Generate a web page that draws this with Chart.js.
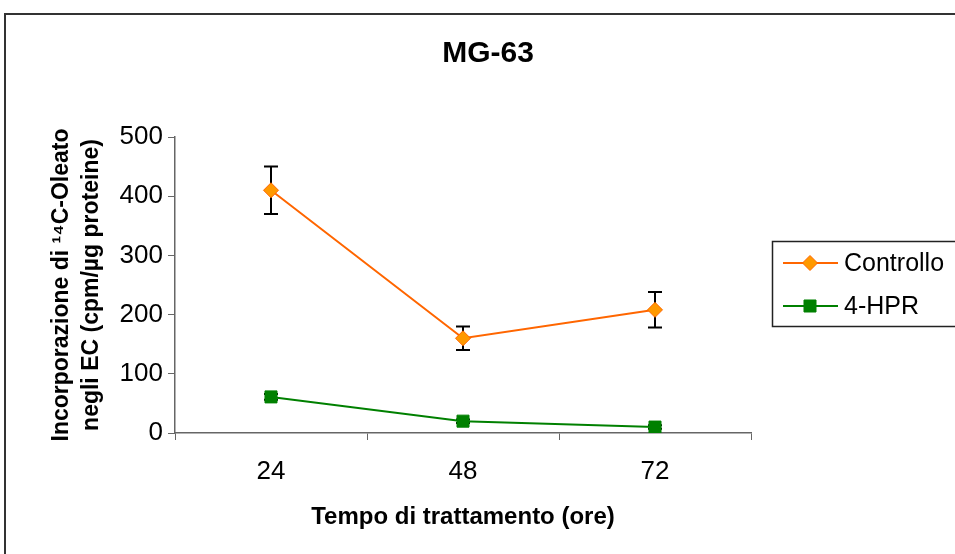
<!DOCTYPE html>
<html lang="it">
<head>
<meta charset="UTF-8">
<title>MG-63</title>
<style>
  html, body { margin: 0; padding: 0; background: #fff; }
</style>
</head>
<body>
<canvas id="myCanvas" width="955" height="554"></canvas>
<script src="https://cdn.jsdelivr.net/npm/chart.js@4.4.1/dist/chart.umd.min.js"></script>
<script>
// dati
const ore = ['24', '48', '72'];
const controllo = [410, 160, 208];
const controlloErr = [40, 20, 30];
const hpr = [61, 20, 10];
const hprErr = [5, 3, 3];
const yTicks = [0, 100, 200, 300, 400, 500];

const FONT = "'Liberation Sans', Arial, sans-serif";

// barre di errore, sotto i marker
const errorBars = {
    id: 'errorBars',
    beforeDatasetsDraw(chart) {
        const ctx = chart.ctx;
        const y = chart.scales.y;
        ctx.save();
        ctx.strokeStyle = '#000';
        ctx.lineWidth = 2;
        chart.data.datasets.forEach((ds, i) => {
            const meta = chart.getDatasetMeta(i);
            meta.data.forEach((pt, j) => {
                const v = ds.data[j], e = ds.err[j];
                const top = y.getPixelForValue(v + e);
                const bot = y.getPixelForValue(v - e);
                ctx.beginPath();
                ctx.moveTo(pt.x, top); ctx.lineTo(pt.x, bot);
                ctx.moveTo(pt.x - 7, top); ctx.lineTo(pt.x + 7, top);
                ctx.moveTo(pt.x - 7, bot); ctx.lineTo(pt.x + 7, bot);
                ctx.stroke();
            });
        });
        ctx.restore();
    }
};

// titolo, legenda e cornice come in Excel
const decor = {
    id: 'decor',
    afterDraw(chart) {
        const ctx = chart.ctx;
        ctx.save();
        ctx.strokeStyle = '#333';
        ctx.lineWidth = 2;
        ctx.strokeRect(5, 14, 1000, 1000);

        ctx.fillStyle = '#000';
        ctx.font = 'bold 30px ' + FONT;
        ctx.textAlign = 'center';
        ctx.textBaseline = 'middle';
        ctx.fillText('MG-63', 488, 54);

        // legenda
        ctx.lineWidth = 1.5;
        ctx.strokeStyle = '#222';
        ctx.strokeRect(772.5, 241.5, 200, 85);
        ctx.font = '25px ' + FONT;
        ctx.textAlign = 'left';
        const rows = [263, 306];
        chart.data.datasets.forEach((ds, i) => {
            const yy = rows[i];
            ctx.strokeStyle = ds.borderColor;
            ctx.lineWidth = 2;
            ctx.beginPath();
            ctx.moveTo(783, yy); ctx.lineTo(838, yy);
            ctx.stroke();
            ctx.fillStyle = ds.pointBackgroundColor;
            ctx.strokeStyle = ds.pointBorderColor;
            ctx.lineWidth = ds.pointBorderWidth;
            Chart.helpers.drawPoint(ctx, {pointStyle: ds.pointStyle, radius: ds.pointRadius, rotation: 0, borderWidth: ds.pointBorderWidth}, 810, yy);
            ctx.fillStyle = '#000';
            ctx.fillText(ds.label, 844, yy + 1);
        });
        ctx.restore();
    }
};

new Chart(document.getElementById('myCanvas'), {
    type: 'line',
    data: {
        labels: ore,
        datasets: [{
            label: 'Controllo',
            data: controllo,
            err: controlloErr,
            borderColor: '#FF6600',
            borderWidth: 2,
            pointStyle: 'rectRot',
            pointRadius: 7.5,
            pointBackgroundColor: '#FF9900',
            pointBorderColor: '#FF6600',
            pointBorderWidth: 1,
            tension: 0
        }, {
            label: '4-HPR',
            data: hpr,
            err: hprErr,
            borderColor: '#008000',
            borderWidth: 2,
            pointStyle: 'rect',
            pointRadius: 8.5,
            pointBackgroundColor: '#008000',
            pointBorderColor: '#008000',
            pointBorderWidth: 1,
            tension: 0
        }]
    },
    options: {
        responsive: false,
        animation: false,
        layout: { padding: { left: 0, top: 137, right: 204, bottom: 0 } },
        plugins: {
            legend: { display: false },
            title: { display: false },
            tooltip: { enabled: false }
        },
        scales: {
            x: {
                offset: true,
                afterFit(s) { s.height = 121; },
                grid: { offset: true, drawOnChartArea: false, tickLength: 7, color: '#666', lineWidth: 1 },
                border: { color: '#666', width: 1.5 },
                ticks: { color: '#000', font: { family: FONT, size: 26 }, padding: 16 },
                title: {
                    display: true,
                    text: 'Tempo di trattamento (ore)',
                    color: '#000',
                    font: { family: FONT, size: 24, weight: 'bold' },
                    padding: { top: 0, bottom: 22 }
                }
            },
            y: {
                min: 0,
                max: 500,
                afterFit(s) { s.width = 175; },
                afterBuildTicks(s) { s.ticks = yTicks.map(v => ({ value: v })); },
                grid: { drawOnChartArea: false, tickLength: 7, color: '#666', lineWidth: 1 },
                border: { color: '#666', width: 1.5 },
                ticks: { color: '#000', font: { family: FONT, size: 26 }, padding: 5 },
                title: {
                    display: true,
                    text: ['Incorporazione di \u00B9\u2074C-Oleato', 'negli EC (cpm/\u00B5g proteine)'],
                    color: '#000',
                    font: { family: FONT, size: 23, weight: 'bold', lineHeight: 1.3 },
                    padding: { top: 47, bottom: 0 }
                }
            }
        }
    },
    plugins: [errorBars, decor]
});
</script>
</body>
</html>
